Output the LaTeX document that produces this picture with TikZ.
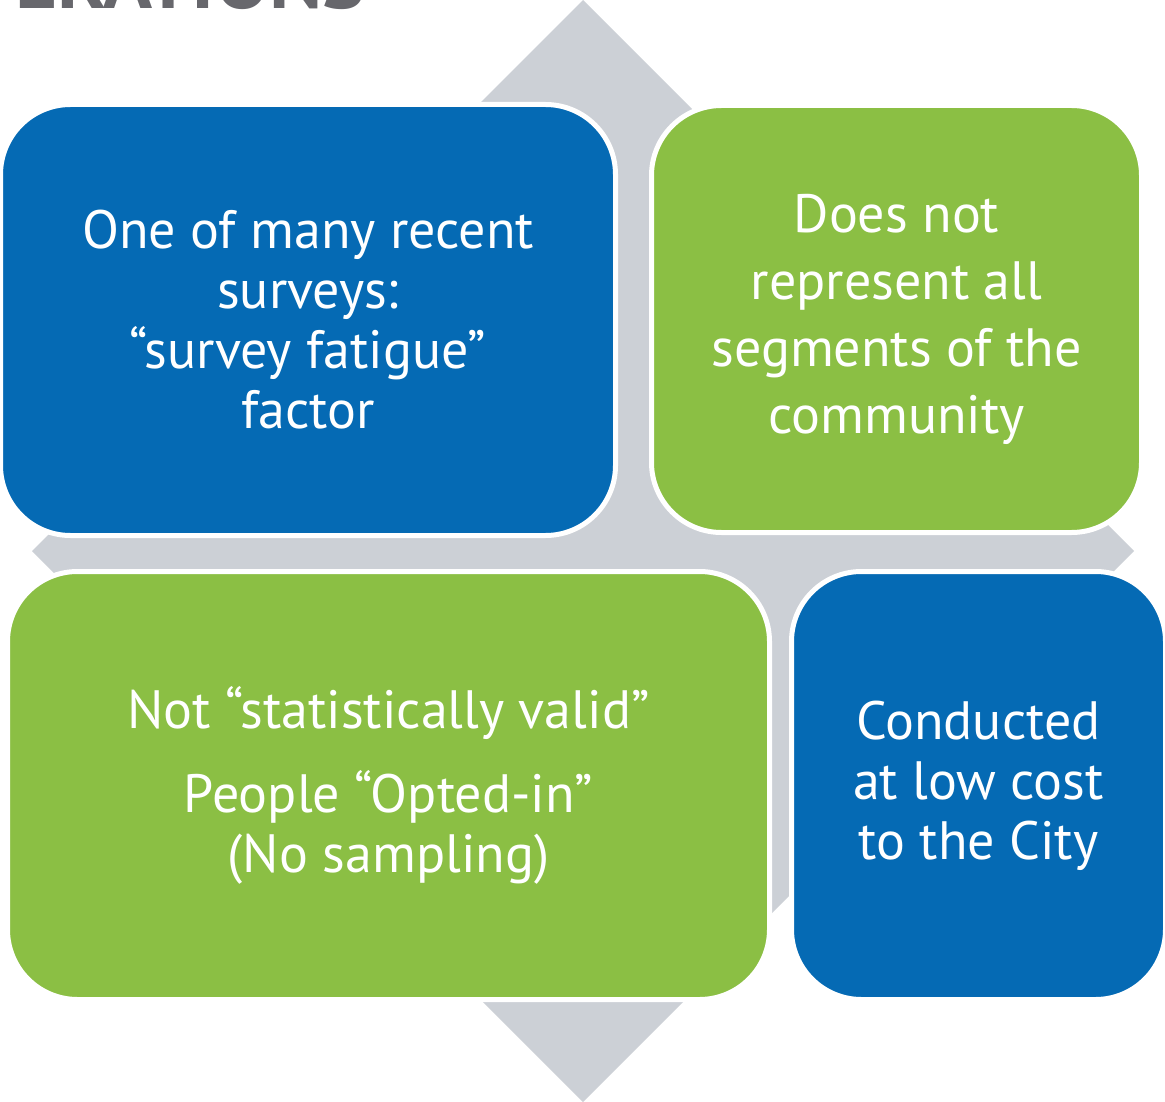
\documentclass[tikz,border=0pt]{standalone}
\usepackage{fontspec}
\setmainfont{PT Sans}
\usetikzlibrary{positioning}

\definecolor{boxblue}{RGB}{5,106,180}
\definecolor{boxgreen}{RGB}{139,191,68}
\definecolor{arrowgray}{RGB}{204,208,214}
\definecolor{titlegray}{RGB}{103,103,108}

\begin{document}
\begin{tikzpicture}[x=1pt, y=-1pt,
  card/.style={rectangle, rounded corners=70pt, draw=white, line width=5pt,
    inner sep=0pt, align=center, text=white, minimum height=428pt,
    font=\fontsize{54}{60}\selectfont},
  bluecard/.style={card, fill=boxblue},
  greencard/.style={card, fill=boxgreen}]

  \useasboundingbox (0,0) rectangle (1165,1102);
  \clip (0,0) rectangle (1165,1102);

  % title, cut off by the top edge
  \node[anchor=base west, inner sep=0pt, text=titlegray,
    font=\fontsize{81}{81}\selectfont\bfseries] (title) at (15,9) {ERATIONS};

  % four-way arrow behind the cards
  \fill[arrowgray] (583,0) -- (1134,551) -- (583,1102) -- (32,551) -- cycle;

  \node[bluecard, minimum width=615pt, minimum height=431pt] (fatigue) at (308,320)
    {One of many recent\\surveys:\\“survey fatigue”\\factor};
  \node[greencard, minimum width=490pt, minimum height=427pt] (segments) at (896.5,319)
    {Does not\\[7pt]represent all\\[7pt]segments of the\\[7pt]community};
  \node[greencard, minimum width=762pt] (valid) at (388.5,785.5)
    {Not “statistically valid”\\[24pt]People “Opted-in”\\(No sampling)};
  \node[bluecard, minimum width=374pt] (cost) at (978.5,785.5)
    {Conducted\\at low cost\\to the City};

\end{tikzpicture}
\end{document}
